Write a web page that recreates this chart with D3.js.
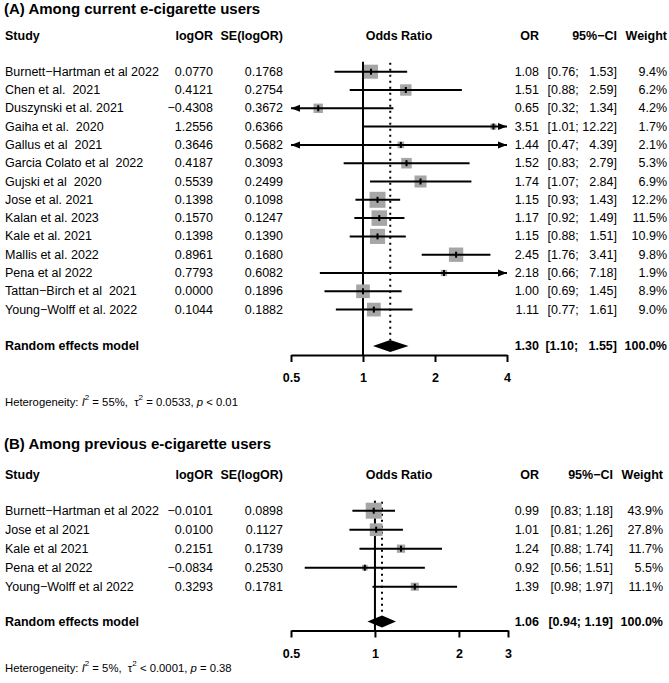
<!DOCTYPE html>
<html>
<head>
<meta charset="utf-8">
<script src="https://cdn.jsdelivr.net/npm/d3@7"></script>
<style>
  body { margin: 0; background: #fff; }
  svg text { font-family: "Liberation Sans", Arial, sans-serif; fill: #000; white-space: pre; }
</style>
</head>
<body>
<div id="chart"></div>
<script>
// ---- panel A: current e-cigarette users
var studiesA = ["Burnett\u2212Hartman et al 2022", "Chen et al.  2021", "Duszynski et al. 2021",
  "Gaiha et al.  2020", "Gallus et al  2021", "Garcia Colato et al  2022", "Gujski et al  2020",
  "Jose et al. 2021", "Kalan et al. 2023", "Kale et al. 2021", "Mallis et al. 2022",
  "Pena et al 2022", "Tattan\u2212Birch et al  2021", "Young\u2212Wolff et al. 2022"];
var logOrA = [0.0770, 0.4121, -0.4308, 1.2556, 0.3646, 0.4187, 0.5539, 0.1398, 0.1570, 0.1398, 0.8961, 0.7793, 0.0000, 0.1044];
var seA = [0.1768, 0.2754, 0.3672, 0.6366, 0.5682, 0.3093, 0.2499, 0.1098, 0.1247, 0.1390, 0.1680, 0.6082, 0.1896, 0.1882];
var orA = [1.08, 1.51, 0.65, 3.51, 1.44, 1.52, 1.74, 1.15, 1.17, 1.15, 2.45, 2.18, 1.00, 1.11];
var lowerA = [0.76, 0.88, 0.32, 1.01, 0.47, 0.83, 1.07, 0.93, 0.92, 0.88, 1.76, 0.66, 0.69, 0.77];
var upperA = [1.53, 2.59, 1.34, 12.22, 4.39, 2.79, 2.84, 1.43, 1.49, 1.51, 3.41, 7.18, 1.45, 1.61];
var weightA = [9.4, 6.2, 4.2, 1.7, 2.1, 5.3, 6.9, 12.2, 11.5, 10.9, 9.8, 1.9, 8.9, 9.0];
var pooledA = [1.30, 1.10, 1.55];
var ticksA = [0.5, 1, 2, 4];

// ---- panel B: previous e-cigarette users
var studiesB = ["Burnett\u2212Hartman et al 2022", "Jose et al 2021", "Kale et al 2021",
  "Pena et al 2022", "Young\u2212Wolff et al 2022"];
var logOrB = [-0.0101, 0.0100, 0.2151, -0.0834, 0.3293];
var seB = [0.0898, 0.1127, 0.1739, 0.2530, 0.1781];
var orB = [0.99, 1.01, 1.24, 0.92, 1.39];
var lowerB = [0.83, 0.81, 0.88, 0.56, 0.98];
var upperB = [1.18, 1.26, 1.74, 1.51, 1.97];
var weightB = [43.9, 27.8, 11.7, 5.5, 11.1];
var pooledB = [1.06, 0.94, 1.19];
var ticksB = [0.5, 1, 2, 3];

var W = 669, H = 683;
var fs = 12.5;
var f2 = d3.format(".2f"), f4 = d3.format(".4f"), f1 = d3.format(".1f");

var svg = d3.select("#chart").append("svg")
  .attr("width", W).attr("height", H);

function txt(g, x, y, s, anchor, bold, size) {
  return g.append("text")
    .attr("x", x).attr("y", y)
    .attr("dominant-baseline", "central")
    .attr("text-anchor", anchor || "start")
    .style("font-size", (size || fs) + "px")
    .style("font-weight", bold ? "bold" : "normal")
    .text(s);
}

// like meta's forest(): pad the upper limit so the columns line up
function ciLabel(lo, hi, width) {
  var u = f2(hi), pad = "";
  for (var k = u.length; k < width; k++) pad += "  ";
  return "[" + f2(lo) + "; " + pad + u + "]";
}

function drawPanel(p) {
  var g = svg.append("g");
  var x = d3.scaleLog().domain(p.domain).range([291, p.right]);
  var rows = p.studies.map(function(d, i) { return p.row0 + i * p.step; });
  var size = d3.scaleSqrt().domain([0, d3.max(p.weight)]).range([0, 16]);
  var uw = d3.max(p.upper, function(d) { return f2(d).length; });

  // title and column headers
  txt(g, 4, p.titleY, p.title, "start", true, 15);
  txt(g, 5, p.headY, "Study", "start", true);
  txt(g, 213, p.headY, "logOR", "end", true);
  txt(g, 283, p.headY, "SE(logOR)", "end", true);
  txt(g, 399, p.headY, "Odds Ratio", "middle", true);
  txt(g, 539, p.headY, "OR", "end", true);
  txt(g, p.ciEnd, p.headY, "95%\u2212CI", "end", true);
  txt(g, p.wEnd, p.headY, "Weight", "end", true);

  // study rows text
  p.studies.forEach(function(s, i) {
    var y = rows[i];
    txt(g, 5, y, s);
    txt(g, 213, y, f4(p.logOr[i]), "end");
    txt(g, 283, y, f4(p.se[i]), "end");
    txt(g, 539, y, f2(p.or[i]), "end");
    txt(g, p.ciEnd, y, ciLabel(p.lower[i], p.upper[i], uw), "end");
    txt(g, p.wEnd, y, f1(p.weight[i]) + "%", "end");
  });

  // pooled row text
  txt(g, 5, p.poolY, "Random effects model", "start", true);
  txt(g, 539, p.poolY, f2(p.pooled[0]), "end", true);
  txt(g, p.ciEnd, p.poolY, ciLabel(p.pooled[1], p.pooled[2], uw), "end", true);
  txt(g, p.wEnd, p.poolY, "100.0%", "end", true);

  // reference line at 1 and dotted line at pooled estimate
  g.append("line")
    .attr("x1", x(1)).attr("x2", x(1))
    .attr("y1", rows[0] - 10).attr("y2", p.axisY)
    .attr("stroke", "#000").attr("stroke-width", 2);
  g.append("line")
    .attr("x1", x(p.pooled[0])).attr("x2", x(p.pooled[0]))
    .attr("y1", rows[0] - 9).attr("y2", p.poolY - 6)
    .attr("stroke", "#000").attr("stroke-width", 2)
    .attr("stroke-dasharray", "2,4");

  // squares
  g.selectAll(".sq").data(p.or).enter().append("rect")
    .attr("x", function(d, i) { return x(d) - size(p.weight[i]) / 2; })
    .attr("y", function(d, i) { return rows[i] - size(p.weight[i]) / 2; })
    .attr("width", function(d, i) { return size(p.weight[i]); })
    .attr("height", function(d, i) { return size(p.weight[i]); })
    .attr("fill", "#a6a6a6");

  // confidence intervals, with arrows when outside the axis
  var lo = p.domain[0], hi = p.domain[1];
  p.or.forEach(function(d, i) {
    var y = rows[i];
    var x1 = x(Math.max(p.lower[i], lo)), x2 = x(Math.min(p.upper[i], hi));
    g.append("line")
      .attr("x1", x1).attr("x2", x2).attr("y1", y).attr("y2", y)
      .attr("stroke", "#000").attr("stroke-width", 2);
    if (p.lower[i] < lo) {
      g.append("path")
        .attr("d", "M" + x1 + "," + y + "l9,-3.5l0,7z")
        .attr("fill", "#000");
    }
    if (p.upper[i] > hi) {
      g.append("path")
        .attr("d", "M" + x2 + "," + y + "l-9,-3.5l0,7z")
        .attr("fill", "#000");
    }
    g.append("rect")
      .attr("x", x(d) - 1).attr("y", y - 3)
      .attr("width", 2).attr("height", 6)
      .attr("fill", "#000");
  });

  // diamond
  var py = p.poolY;
  g.append("path")
    .attr("d", "M" + x(p.pooled[1]) + "," + py +
      "L" + x(p.pooled[0]) + "," + (py - 6) +
      "L" + x(p.pooled[2]) + "," + py +
      "L" + x(p.pooled[0]) + "," + (py + 6) + "Z")
    .attr("fill", "#000");

  // x axis
  var ax = g.append("g")
    .attr("transform", "translate(0," + p.axisY + ")")
    .call(d3.axisBottom(x).tickValues(p.ticks).tickSize(7).tickSizeOuter(0)
      .tickFormat(function(d) { return d; }));
  ax.select(".domain").attr("stroke-width", 2);
  ax.selectAll(".tick line").attr("stroke-width", 2);
  ax.selectAll(".tick text")
    .attr("y", 23).attr("dy", "0.35em")
    .style("font-size", fs + "px").style("font-weight", "bold")
    .style("font-family", "'Liberation Sans', Arial, sans-serif");

  // heterogeneity
  var t = g.append("text")
    .attr("x", 5).attr("y", p.hetY)
    .attr("dominant-baseline", "central")
    .style("font-size", "11.3px");
  t.append("tspan").text("Heterogeneity: ");
  t.append("tspan").style("font-style", "italic").text("I");
  t.append("tspan").attr("baseline-shift", "super").style("font-size", "8px").text("2");
  t.append("tspan").text(" = " + p.het[0] + ",  ");
  t.append("tspan").text("\u03c4");
  t.append("tspan").attr("baseline-shift", "super").style("font-size", "8px").text("2");
  t.append("tspan").text(" " + p.het[1] + ", ");
  t.append("tspan").style("font-style", "italic").text("p");
  t.append("tspan").text(" " + p.het[2]);
}

drawPanel({
  title: "(A) Among current e-cigarette users",
  studies: studiesA, logOr: logOrA, se: seA, or: orA, lower: lowerA, upper: upperA,
  weight: weightA, pooled: pooledA, ticks: ticksA, domain: [0.5, 4], right: 507,
  titleY: 8, headY: 35.5, row0: 71.7, step: 18.3, poolY: 346, axisY: 355, hetY: 402,
  ciEnd: 617, wEnd: 667, het: ["55%", "= 0.0533", "< 0.01"]
});

drawPanel({
  title: "(B) Among previous e-cigarette users",
  studies: studiesB, logOr: logOrB, se: seB, or: orB, lower: lowerB, upper: upperB,
  weight: weightB, pooled: pooledB, ticks: ticksB, domain: [0.5, 3], right: 508,
  titleY: 443, headY: 475, row0: 510.7, step: 19, poolY: 621.5, axisY: 630.5, hetY: 668,
  ciEnd: 613, wEnd: 663, het: ["5%", "< 0.0001", "= 0.38"]
});
</script>
</body>
</html>
